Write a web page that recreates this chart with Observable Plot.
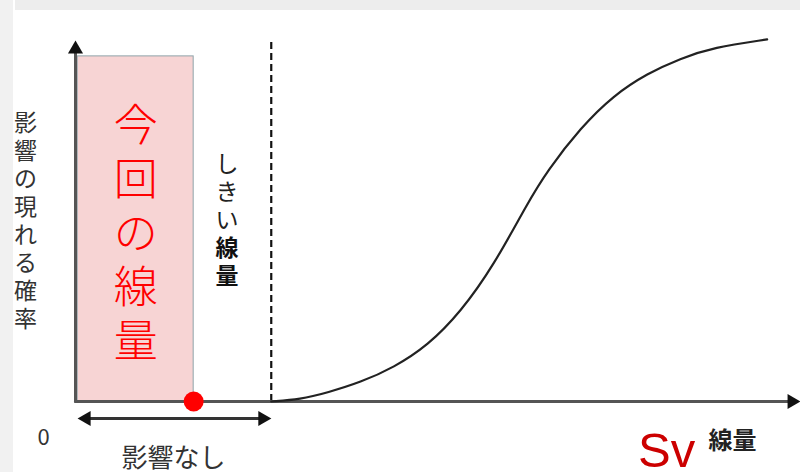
<!DOCTYPE html>
<html>
<head>
<meta charset="utf-8">
<script src="https://cdn.jsdelivr.net/npm/d3@7"></script>
<script src="https://cdn.jsdelivr.net/npm/@observablehq/plot@0.6"></script>
<style>
  html, body { margin: 0; padding: 0; background: #fff; }
  #chart {
    width: 800px; height: 472px; position: relative; overflow: hidden;
    background:
      linear-gradient(#ededed, #ededed) 15px 0 / 785px 10px no-repeat,
      linear-gradient(#f1f1f1, #f1f1f1) 0 0 / 13px 472px no-repeat,
      #ffffff;
  }
  #chart svg { background: transparent !important; }
</style>
</head>
<body>
<div id="chart"></div>
<script>
// ---- data (schematic dose–response) ----
const curveDose = [27.0, 31.0, 34.8, 39.3, 43.9, 48.6, 53.1, 57.7, 62.3, 65.1, 69.7, 74.2, 78.9, 83.4, 88.0, 95.4];
const curveProb = [0, 0.55, 2.5, 5.3, 9.4, 15.5, 24.7, 37.7, 54.8, 64.0, 75.9, 84.8, 90.9, 95.0, 98.1, 100.3];
const thresholdDose = 27.0;      // しきい線量
const currentDose = 16.3;        // 今回の線量
const currentBandTop = 95.6;
const axisMaxX = 100;
const axisMaxY = 100;
const yLabel = "影響の現れる確率";
const thresholdLabelA = "しきい";
const thresholdLabelB = "線量";
const currentLabel = "今回の線量";
const noEffectLabel = "影響なし";
const originLabel = "0";
const unitLabel = "Sv";
const xLabel = "線量";

const curve = curveDose.map((d, i) => ({dose: d, prob: curveProb[i]}));
const vert = s => [...s].join("\n");
const jp = "'Noto Sans CJK JP', 'Noto Sans', sans-serif";
const axisColor = "#555";
const noEffectY = -4.7;

const plot = Plot.plot({
  width: 800,
  height: 472,
  margin: 0,
  style: {background: "transparent"},
  x: {domain: [0, axisMaxX], range: [75, 800], axis: null},
  y: {domain: [0, axisMaxY], range: [401, 40], axis: null},
  marks: [
    // current dose band
    Plot.rect([currentDose], {x1: 0.3, x2: d => d, y1: 0, y2: currentBandTop, fill: "#f7d4d4", stroke: "#8fa3aa", strokeWidth: 1}),
    // threshold dashed line
    Plot.ruleX([thresholdDose], {y1: 0, y2: axisMaxY + 0.5, stroke: "#111", strokeWidth: 2.2, strokeDasharray: "7,4"}),
    // axes shafts
    Plot.arrow([0], {x1: 0, y1: 0, x2: axisMaxX, y2: 0, headLength: 0, insetEnd: 6, stroke: axisColor, strokeWidth: 3}),
    Plot.arrow([0], {x1: 0, y1: 0, x2: 0, y2: axisMaxY, headLength: 0, insetEnd: 6, stroke: axisColor, strokeWidth: 3}),
    // no-effect range double arrow
    Plot.arrow([0], {x1: 0.3, y1: noEffectY, x2: thresholdDose, y2: noEffectY, headLength: 0, insetStart: 6, insetEnd: 6, stroke: "#333", strokeWidth: 3}),
    // arrowheads
    Plot.dot([0], {x: axisMaxX, y: 0, symbol: "triangle", rotate: 90, r: 5.6, fill: "#111", stroke: "none", dx: -8.6}),
    Plot.dot([0], {x: 0, y: axisMaxY, symbol: "triangle", rotate: 0, r: 5.6, fill: "#111", stroke: "none", dy: 8.6}),
    Plot.dot([0], {x: 0.3, y: noEffectY, symbol: "triangle", rotate: -90, r: 5.6, fill: "#111", stroke: "none", dx: 8.6}),
    Plot.dot([0], {x: thresholdDose, y: noEffectY, symbol: "triangle", rotate: 90, r: 5.6, fill: "#111", stroke: "none", dx: -8.6}),
    // response curve
    Plot.line(curve, {x: "dose", y: "prob", curve: "basis", stroke: "#222", strokeWidth: 2.2}),
    // current dose marker
    Plot.dot([currentDose], {x: d => d, y: 0, r: 10, fill: "#ff0000", stroke: "none"}),
    // texts
    Plot.text([yLabel], {x: -6.9, y: 50.3, text: vert, fontFamily: jp, fontSize: 23, lineHeight: 1.22, fill: "#333"}),
    Plot.text([thresholdLabelA], {x: 20.9, y: 58.2, text: vert, fontFamily: jp, fontSize: 23, lineHeight: 1.22, fill: "#222"}),
    Plot.text([thresholdLabelB], {x: 20.9, y: 38.8, text: vert, fontFamily: jp, fontSize: 23, fontWeight: "bold", lineHeight: 1.22, fill: "#111"}),
    Plot.text([currentLabel], {x: 8.3, y: 47.1, text: vert, fontFamily: jp, fontSize: 44, fontWeight: 300, lineHeight: 1.23, fill: "#ff0000"}),
    Plot.text([originLabel], {x: -4.4, y: -10.2, fontFamily: jp, fontSize: 22, fill: "#333"}),
    Plot.text([noEffectLabel], {x: 13.5, y: -15.8, fontFamily: jp, fontSize: 26, fill: "#333"}),
    Plot.text([unitLabel], {x: 77.6, y: -13.9, textAnchor: "start", fontFamily: "'Liberation Sans', Arial, sans-serif", fontSize: 49, fill: "#cc0000"}),
    Plot.text([xLabel], {x: 87.3, y: -10.9, textAnchor: "start", fontFamily: jp, fontSize: 24, fontWeight: "bold", fill: "#222"})
  ]
});
document.getElementById("chart").appendChild(plot);
</script>
</body>
</html>
